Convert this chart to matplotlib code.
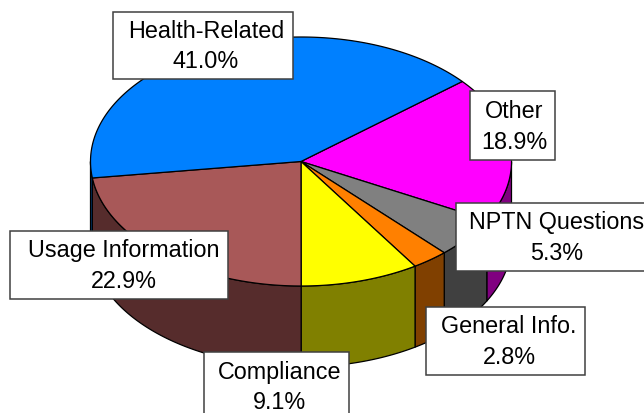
import numpy as np
import matplotlib
matplotlib.use("Agg")
import matplotlib.pyplot as plt
from matplotlib.patches import Polygon, Rectangle

plt.rcParams['font.family'] = ['Liberation Sans', 'DejaVu Sans']

categories = ["Other", "NPTN Questions", "General Info.", "Compliance", "Usage Information", "Health-Related"]
shares = [18.9, 5.3, 2.8, 9.1, 22.9, 41.0]

top_colors = ["#FF00FF", "#808080", "#FF8000", "#FFFF00", "#A85858", "#0080FF"]
side_colors = ["#800080", "#404040", "#804000", "#808000", "#562C2C", "#004080"]
# label boxes: left, top, right, bottom, text x, first-line y, second-line y
boxes = [(470, 92, 555, 161, 514, 112, 143),
         (456, 204, 670, 272, 557, 223, 254),
         (426, 308, 585, 376, 509, 327, 358),
         (204, 353, 349, 430, 280, 373, 403),
         (10, 232, 228, 300, 124, 251, 282),
         (113, 13, 293, 80, 206, 32, 62)]

CX, CY, RX, RY, DEPTH = 301, 162.5, 210.5, 124.5, 81
START = 50.0

def pt(deg, dy=0.0):
    t = np.radians(deg)
    return CX + RX * np.sin(t), CY - RY * np.cos(t) + dy

fig = plt.figure(figsize=(6.44, 4.14), dpi=100)
ax = fig.add_axes([0, 0, 1, 1])
ax.set_xlim(0, 644)
ax.set_ylim(414, 0)
ax.axis("off")

angles = START + np.cumsum([0] + shares) * 3.6

# side walls: only the front half of the rim (90..270 degrees) is seen
for a0, a1, c in zip(angles[:-1], angles[1:], side_colors):
    lo, hi = max(a0, 90), min(a1, 270)
    if hi <= lo:
        continue
    th = np.linspace(lo, hi, 80)
    x, y = pt(th)
    xb, yb = pt(th[::-1], DEPTH)
    ax.add_patch(Polygon(np.c_[np.r_[x, xb], np.r_[y, yb]], closed=True,
                         fc=c, ec="black", lw=0.9, zorder=1))

# top faces
for a0, a1, c in zip(angles[:-1], angles[1:], top_colors):
    th = np.linspace(a0, a1, 160)
    x, y = pt(th)
    ax.add_patch(Polygon(np.c_[np.r_[CX, x], np.r_[CY, y]], closed=True,
                         fc=c, ec="black", lw=0.9, zorder=2, joinstyle="round"))

# labels
for name, val, (l, t, r, b, tx, y1, y2) in zip(categories, shares, boxes):
    ax.add_patch(Rectangle((l, t), r - l, b - t, fc="white", ec="#404040", lw=1.1, zorder=3))
    ax.text(tx, y1, name, ha="center", va="center", fontsize=16.8, color="black", zorder=4, clip_on=True)
    ax.text(tx, y2, f"{val:.1f}%", ha="center", va="center", fontsize=16.8, color="black", zorder=4, clip_on=True)

fig.savefig("out.png", dpi=100)
